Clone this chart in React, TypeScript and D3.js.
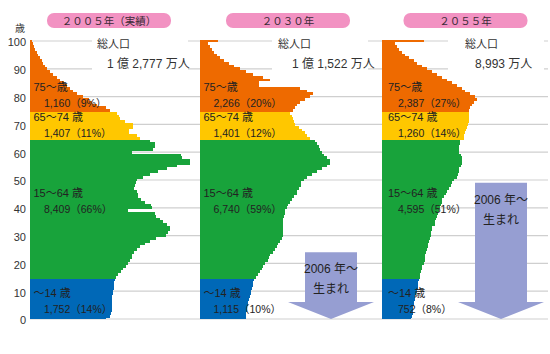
import React, { useEffect, useRef } from 'react';
import * as d3 from 'd3';

// population by single year of age, 0 .. 100+ (万人)
const pop2005 = [
  107, 113, 114, 115, 115, 115, 116, 116, 116, 117,
  117, 118, 118, 119, 120, 121, 124, 128, 131, 135,
  138, 141, 143, 144, 146, 150, 155, 162, 169, 178,
  192, 194, 197, 197, 193, 187, 183, 178, 176, 138,
  172, 170, 162, 157, 152, 152, 150, 147, 148, 149,
  150, 159, 169, 180, 193, 207, 225, 225, 214, 212,
  143, 173, 176, 176, 169, 155, 151, 139, 139, 145,
  145, 134, 127, 125, 123, 113, 107, 94, 87, 83,
  75, 66, 61, 56, 52, 48, 42, 38, 32, 28,
  24, 21, 18, 17, 14, 11, 10, 7, 6, 4, 3,
];
const pop2030 = [
  66, 66, 66, 67, 67, 68, 69, 70, 71, 72,
  73, 74, 76, 76, 77, 79, 82, 85, 88, 90,
  92, 96, 98, 99, 103, 106, 109, 111, 113, 116,
  118, 118, 118, 118, 118, 118, 118, 119, 120, 121,
  123, 125, 128, 130, 133, 137, 138, 140, 143, 143,
  147, 152, 158, 165, 172, 180, 184, 184, 180, 175,
  172, 170, 168, 166, 163, 156, 152, 148, 145, 140,
  135, 133, 131, 130, 128, 132, 134, 137, 141, 148,
  156, 160, 152, 142, 84, 84, 99, 90, 76, 66,
  57, 48, 41, 34, 29, 24, 21, 17, 15, 12, 26,
];
const pop2055 = [
  41, 42, 43, 43, 44, 45, 45, 46, 47, 48,
  49, 50, 51, 51, 52, 53, 54, 55, 56, 57,
  59, 60, 60, 61, 62, 64, 65, 65, 66, 68,
  69, 69, 70, 71, 74, 75, 76, 78, 79, 80,
  81, 83, 84, 85, 87, 90, 92, 94, 97, 99,
  101, 105, 107, 108, 108, 111, 113, 113, 113, 111,
  108, 108, 108, 110, 110, 115, 116, 117, 119, 120,
  121, 122, 122, 122, 122, 122, 124, 127, 129, 134,
  131, 124, 117, 113, 106, 99, 92, 85, 77, 70,
  63, 56, 49, 45, 38, 33, 28, 24, 21, 19, 59,
];

const years = [2005, 2030, 2055];
const totalPop = [12777, 11522, 8993];

const groupNames = ['～14 歳', '15～64 歳', '65～74 歳', '75～歳'];
const groupValues2005 = [1752, 8409, 1407, 1160];
const groupValues2030 = [1115, 6740, 1401, 2266];
const groupValues2055 = [752, 4595, 1260, 2387];
const groupShares2005 = [14, 66, 11, 9];
const groupShares2030 = [10, 59, 12, 20];
const groupShares2055 = [8, 51, 14, 27];

const ageTicks = [0, 10, 20, 30, 40, 50, 60, 70, 80, 90, 100];
const cohortYear = 2006;

const sans = "'Liberation Sans', Arial, 'Noto Sans CJK JP', sans-serif";
const cjk = "'Noto Sans CJK JP', sans-serif";

// layout (px)
const panelLeft = [30, 199.5, 382];
const gridRight = 548;
const titleCenter = [79, 88.5, 83.5];
const totalBoxX = [62, 72.5, 66];
const captionX = [67, 78.5, 83];
const totalX = [77, 92.5, 93];
const arrowCenter = [0, 131.5, 119];
const labelAge = [8, 43.8, 71.2, 82];
const nameX = [3.5, 4, 6];
const valueX = [14, 14, 16];

const toWide = (s: string) => s.replace(/[0-9]/g, (c) => String.fromCharCode(c.charCodeAt(0) + 0xfee0));

const totalText = (v: number) =>
  v >= 10000 ? `${Math.floor(v / 10000)} 億 ${d3.format(',')(v % 10000)} 万人` : `${d3.format(',')(v)} 万人`;

const App = () => {
  const svgRef = useRef<SVGSVGElement>(null);

  useEffect(() => {
    const panels = [
      { pop: pop2005, values: groupValues2005, shares: groupShares2005 },
      { pop: pop2030, values: groupValues2030, shares: groupShares2030 },
      { pop: pop2055, values: groupValues2055, shares: groupShares2055 },
    ];

    const svg = d3.select(svgRef.current);
    svg.selectAll('*').remove();

    const y = d3.scaleLinear().domain([0, 100]).range([319, 41]);
    const x = d3.scaleLinear().domain([0, 100]).range([0, 71]);
    const color = d3
      .scaleThreshold<number, string>()
      .domain([15, 65, 75])
      .range(['#0068b7', '#18a33b', '#ffc700', '#ee6a00']);

    // gridlines
    svg.append('g')
      .selectAll('line')
      .data(ageTicks)
      .join('line')
      .attr('x1', panelLeft[0])
      .attr('x2', gridRight)
      .attr('y1', (d) => y(d))
      .attr('y2', (d) => y(d))
      .attr('stroke', '#cfcfcf')
      .attr('stroke-width', 1.2);

    // y axis
    const axis = svg.append('g')
      .attr('transform', `translate(${panelLeft[0]},0)`)
      .call(d3.axisLeft(y).tickValues(ageTicks).tickSize(0).tickPadding(4));
    axis.select('.domain').remove();
    axis.selectAll('text')
      .attr('dy', '0.45em')
      .attr('font-size', 11)
      .attr('font-family', sans)
      .attr('fill', '#333');

    svg.append('text')
      .attr('x', 20)
      .attr('y', 32)
      .attr('text-anchor', 'middle')
      .attr('font-size', 10)
      .attr('font-family', cjk)
      .attr('fill', '#333')
      .text('歳');

    panels.forEach((p, i) => {
      const g = svg.append('g').attr('transform', `translate(${panelLeft[i]},0)`);

      // title
      g.append('rect')
        .attr('x', titleCenter[i] - 62)
        .attr('y', 13)
        .attr('width', 124)
        .attr('height', 15)
        .attr('rx', 7)
        .attr('fill', '#f292c2');
      g.append('text')
        .attr('x', titleCenter[i])
        .attr('y', 21)
        .attr('dy', '0.35em')
        .attr('text-anchor', 'middle')
        .attr('font-size', 10.5)
        .attr('font-family', cjk)
        .attr('fill', '#3a2a36')
        .text(toWide(String(years[i])) + '年' + (i === 0 ? '（実績）' : ''));

      // total population box
      g.append('rect')
        .attr('x', totalBoxX[i])
        .attr('y', 35)
        .attr('width', 96)
        .attr('height', 40.5)
        .attr('fill', '#fff');
      g.append('text')
        .attr('x', captionX[i])
        .attr('y', 48)
        .attr('font-size', 11)
        .attr('font-family', cjk)
        .attr('fill', '#333')
        .text('総人口');
      g.append('text')
        .attr('x', totalX[i])
        .attr('y', 68)
        .attr('font-size', 12)
        .attr('font-family', sans)
        .attr('fill', '#333')
        .text(totalText(totalPop[i]));

      // bars
      g.append('g')
        .selectAll('rect')
        .data(p.pop)
        .join('rect')
        .attr('x', 0)
        .attr('y', (d, a) => y(a + 0.5))
        .attr('width', (d) => x(d))
        .attr('height', (d, a) => Math.min(y(a - 0.5), y(0)) - y(a + 0.5))
        .attr('fill', (d, a) => color(a))
        .attr('shape-rendering', 'crispEdges');

      // group labels
      groupNames.forEach((name, k) => {
        const ly = y(labelAge[k]);
        g.append('text')
          .attr('x', nameX[i])
          .attr('y', ly)
          .attr('font-size', 11)
          .attr('font-family', sans)
          .attr('fill', '#222')
          .text(name);
        g.append('text')
          .attr('x', valueX[i])
          .attr('y', ly + 16)
          .attr('font-size', 10.5)
          .attr('font-family', sans)
          .attr('fill', '#222')
          .text(`${d3.format(',')(p.values[k])}（${p.shares[k]}%）`);
      });

      // cohort arrow (born 2006 and later)
      if (years[i] > cohortYear) {
        const cx = arrowCenter[i];
        const top = y(years[i] - cohortYear);
        const base = y(0);
        const neck = base - 17;
        g.append('path')
          .attr('d', `M${cx - 26},${top}L${cx + 26},${top}L${cx + 26},${neck}L${cx + 43},${neck}L${cx},${base}L${cx - 43},${neck}L${cx - 26},${neck}Z`)
          .attr('fill', '#969ed2');
        g.append('text')
          .attr('x', cx)
          .attr('y', top + 21)
          .attr('text-anchor', 'middle')
          .attr('font-size', 12)
          .attr('font-family', sans)
          .attr('fill', '#222')
          .text('2006 年～');
        g.append('text')
          .attr('x', cx)
          .attr('y', top + 41)
          .attr('text-anchor', 'middle')
          .attr('font-size', 12)
          .attr('font-family', cjk)
          .attr('fill', '#222')
          .text('生まれ');
      }
    });
  }, []);

  return (
    <svg
      ref={svgRef}
      width={550}
      height={354}
      style={{ position: 'absolute', left: 0, top: 0, background: '#fff' }}
    />
  );
};

export default App;
